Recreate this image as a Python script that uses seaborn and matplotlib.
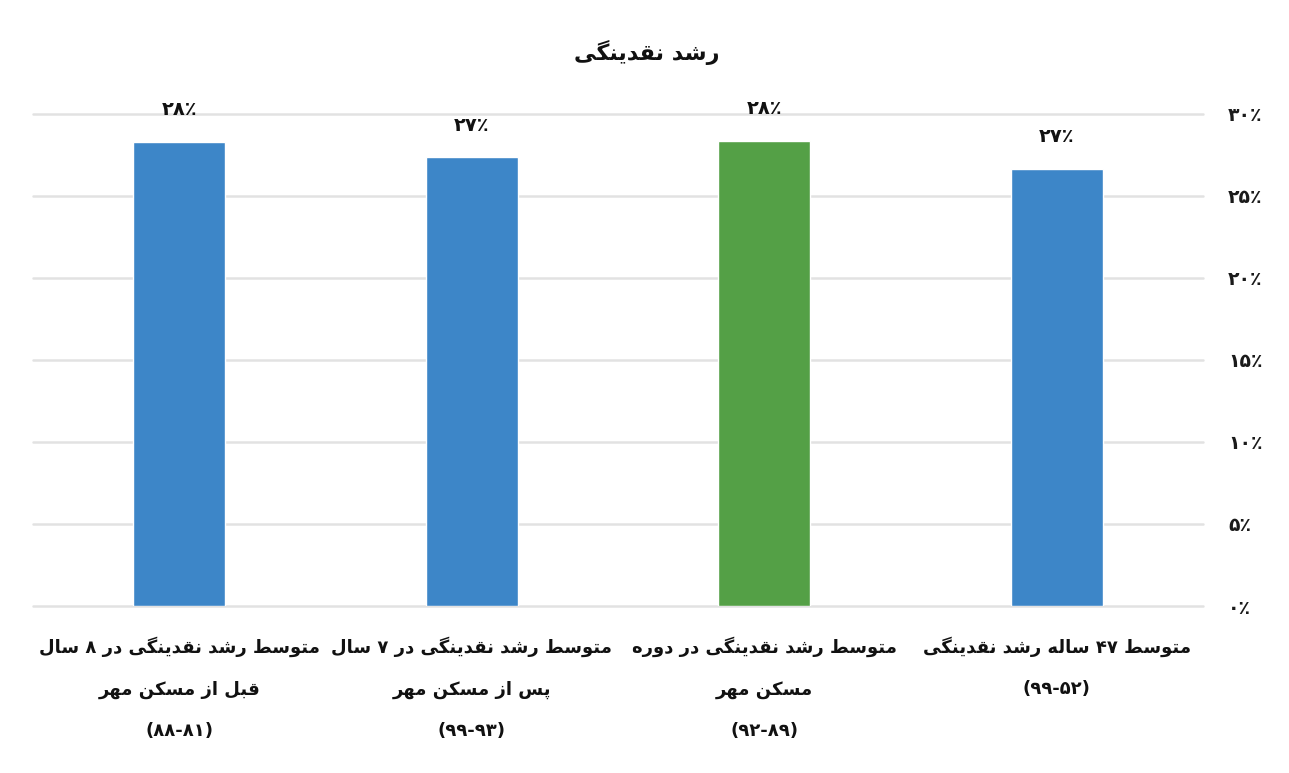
import matplotlib
matplotlib.use("Agg")
import matplotlib.pyplot as plt
import seaborn as sns
import pandas as pd

# Chart data (logical Persian text)
title = "رشد نقدینگی"
categories = [
    "متوسط رشد نقدینگی در ۸ سال\nقبل از مسکن مهر\n(۸۱-۸۸)",
    "متوسط رشد نقدینگی در ۷ سال\nپس از مسکن مهر\n(۹۳-۹۹)",
    "متوسط رشد نقدینگی در دوره\nمسکن مهر\n(۸۹-۹۲)",
    "متوسط ۴۷ ساله رشد نقدینگی\n(۵۲-۹۹)",
]
values = [28.3, 27.35, 28.35, 26.65]
value_labels = ["۲۸٪", "۲۷٪", "۲۸٪", "۲۷٪"]
bar_colors = ["#3D86C8", "#3D86C8", "#54A046", "#3D86C8"]
yticks = [0, 5, 10, 15, 20, 25, 30]
ytick_labels = ["۰٪", "۵٪", "۱۰٪", "۱۵٪", "۲۰٪", "۲۵٪", "۳۰٪"]

# matplotlib has no Arabic shaping, so pick presentation forms by hand
# forms: isolated, final, initial, medial
FORMS = {
    "ا": ("\uFE8D", "\uFE8E", None, None),
    "ب": ("\uFE8F", "\uFE90", "\uFE91", "\uFE92"),
    "پ": ("\uFB56", "\uFB57", "\uFB58", "\uFB59"),
    "ت": ("\uFE95", "\uFE96", "\uFE97", "\uFE98"),
    "د": ("\uFEA9", "\uFEAA", None, None),
    "ر": ("\uFEAD", "\uFEAE", None, None),
    "ز": ("\uFEAF", "\uFEB0", None, None),
    "س": ("\uFEB1", "\uFEB2", "\uFEB3", "\uFEB4"),
    "ش": ("\uFEB5", "\uFEB6", "\uFEB7", "\uFEB8"),
    "ط": ("\uFEC1", "\uFEC2", "\uFEC3", "\uFEC4"),
    "ق": ("\uFED5", "\uFED6", "\uFED7", "\uFED8"),
    "ک": ("\uFB8E", "\uFB8F", "\uFB90", "\uFB91"),
    "گ": ("\uFB92", "\uFB93", "\uFB94", "\uFB95"),
    "ل": ("\uFEDD", "\uFEDE", "\uFEDF", "\uFEE0"),
    "م": ("\uFEE1", "\uFEE2", "\uFEE3", "\uFEE4"),
    "ن": ("\uFEE5", "\uFEE6", "\uFEE7", "\uFEE8"),
    "ه": ("\uFEE9", "\uFEEA", "\uFEEB", "\uFEEC"),
    "و": ("\uFEED", "\uFEEE", None, None),
    "ی": ("\uFBFC", "\uFBFD", "\uFBFE", "\uFBFF"),
}
NUMBER_CHARS = set("۰۱۲۳۴۵۶۷۸۹٪0123456789")
MIRROR = {"(": ")", ")": "("}


def shape(line):
    out = []
    for i, ch in enumerate(line):
        if ch not in FORMS:
            out.append(ch)
            continue
        prev = line[i - 1] if i > 0 else ""
        nxt = line[i + 1] if i + 1 < len(line) else ""
        join_prev = prev in FORMS and FORMS[prev][2] is not None
        join_next = FORMS[ch][2] is not None and nxt in FORMS
        iso, fin, ini, med = FORMS[ch]
        if join_prev and join_next:
            out.append(med)
        elif join_prev:
            out.append(fin)
        elif join_next:
            out.append(ini)
        else:
            out.append(iso)
    return "".join(out)


def visual(line):
    # split into number runs / other runs, then lay out right-to-left
    runs, cur, cur_num = [], "", None
    for ch in line:
        is_num = ch in NUMBER_CHARS
        if cur and is_num != cur_num:
            runs.append((cur, cur_num))
            cur = ""
        cur += ch
        cur_num = is_num
    if cur:
        runs.append((cur, cur_num))
    parts = []
    for text, is_num in reversed(runs):
        if is_num:
            parts.append(text)
        else:
            parts.append("".join(MIRROR.get(c, c) for c in reversed(text)))
    return "".join(parts)


def fa(text):
    return "\n".join(visual(shape(l)) for l in text.split("\n"))


sns.set_theme(style="white")
plt.rcParams["font.family"] = ["DejaVu Sans"]

df = pd.DataFrame({"cat": categories, "val": values})

fig = plt.figure(figsize=(12.89, 7.73), dpi=100)
ax = fig.add_axes([0.0256, 0.216, 0.9077, 0.637])

sns.barplot(data=df, x="cat", y="val", hue="cat", palette=bar_colors,
            width=0.315, legend=False, saturation=1, ax=ax)

ax.set_ylim(0, 30)
ax.set_xlim(-0.5, 3.5)
ax.set_yticks(yticks)
ax.set_yticklabels([fa(t) for t in ytick_labels], fontsize=13.5, fontweight="bold",
                   color="#1A1A1A")
ax.yaxis.tick_right()
ax.tick_params(axis="y", length=0, pad=18)
ax.grid(axis="y", color="#E2E2E2", linewidth=1.8)
ax.set_axisbelow(True)
for gl in ax.get_ygridlines():
    gl.set_clip_on(False)

ax.set_xticks(range(len(categories)))
ax.set_xticklabels([fa(c) for c in categories], fontsize=13, fontweight="bold",
                   linespacing=2.65, color="#111111")
ax.tick_params(axis="x", length=0, pad=22)

for container in ax.containers:
    for bar in container:
        i = int(round(bar.get_x() + bar.get_width() / 2))
        ax.annotate(fa(value_labels[i]), (bar.get_x() + bar.get_width() / 2, bar.get_height()),
                    xytext=(0, 16), textcoords="offset points", ha="center", va="bottom",
                    fontsize=14, fontweight="bold", color="#111111")

ax.set_xlabel("")
ax.set_ylabel("")
for s in ax.spines.values():
    s.set_visible(False)

fig.text(0.502, 0.932, fa(title), ha="center", va="center", fontsize=16, fontweight="bold",
         color="#111111")

fig.savefig("out.png", dpi=100)
